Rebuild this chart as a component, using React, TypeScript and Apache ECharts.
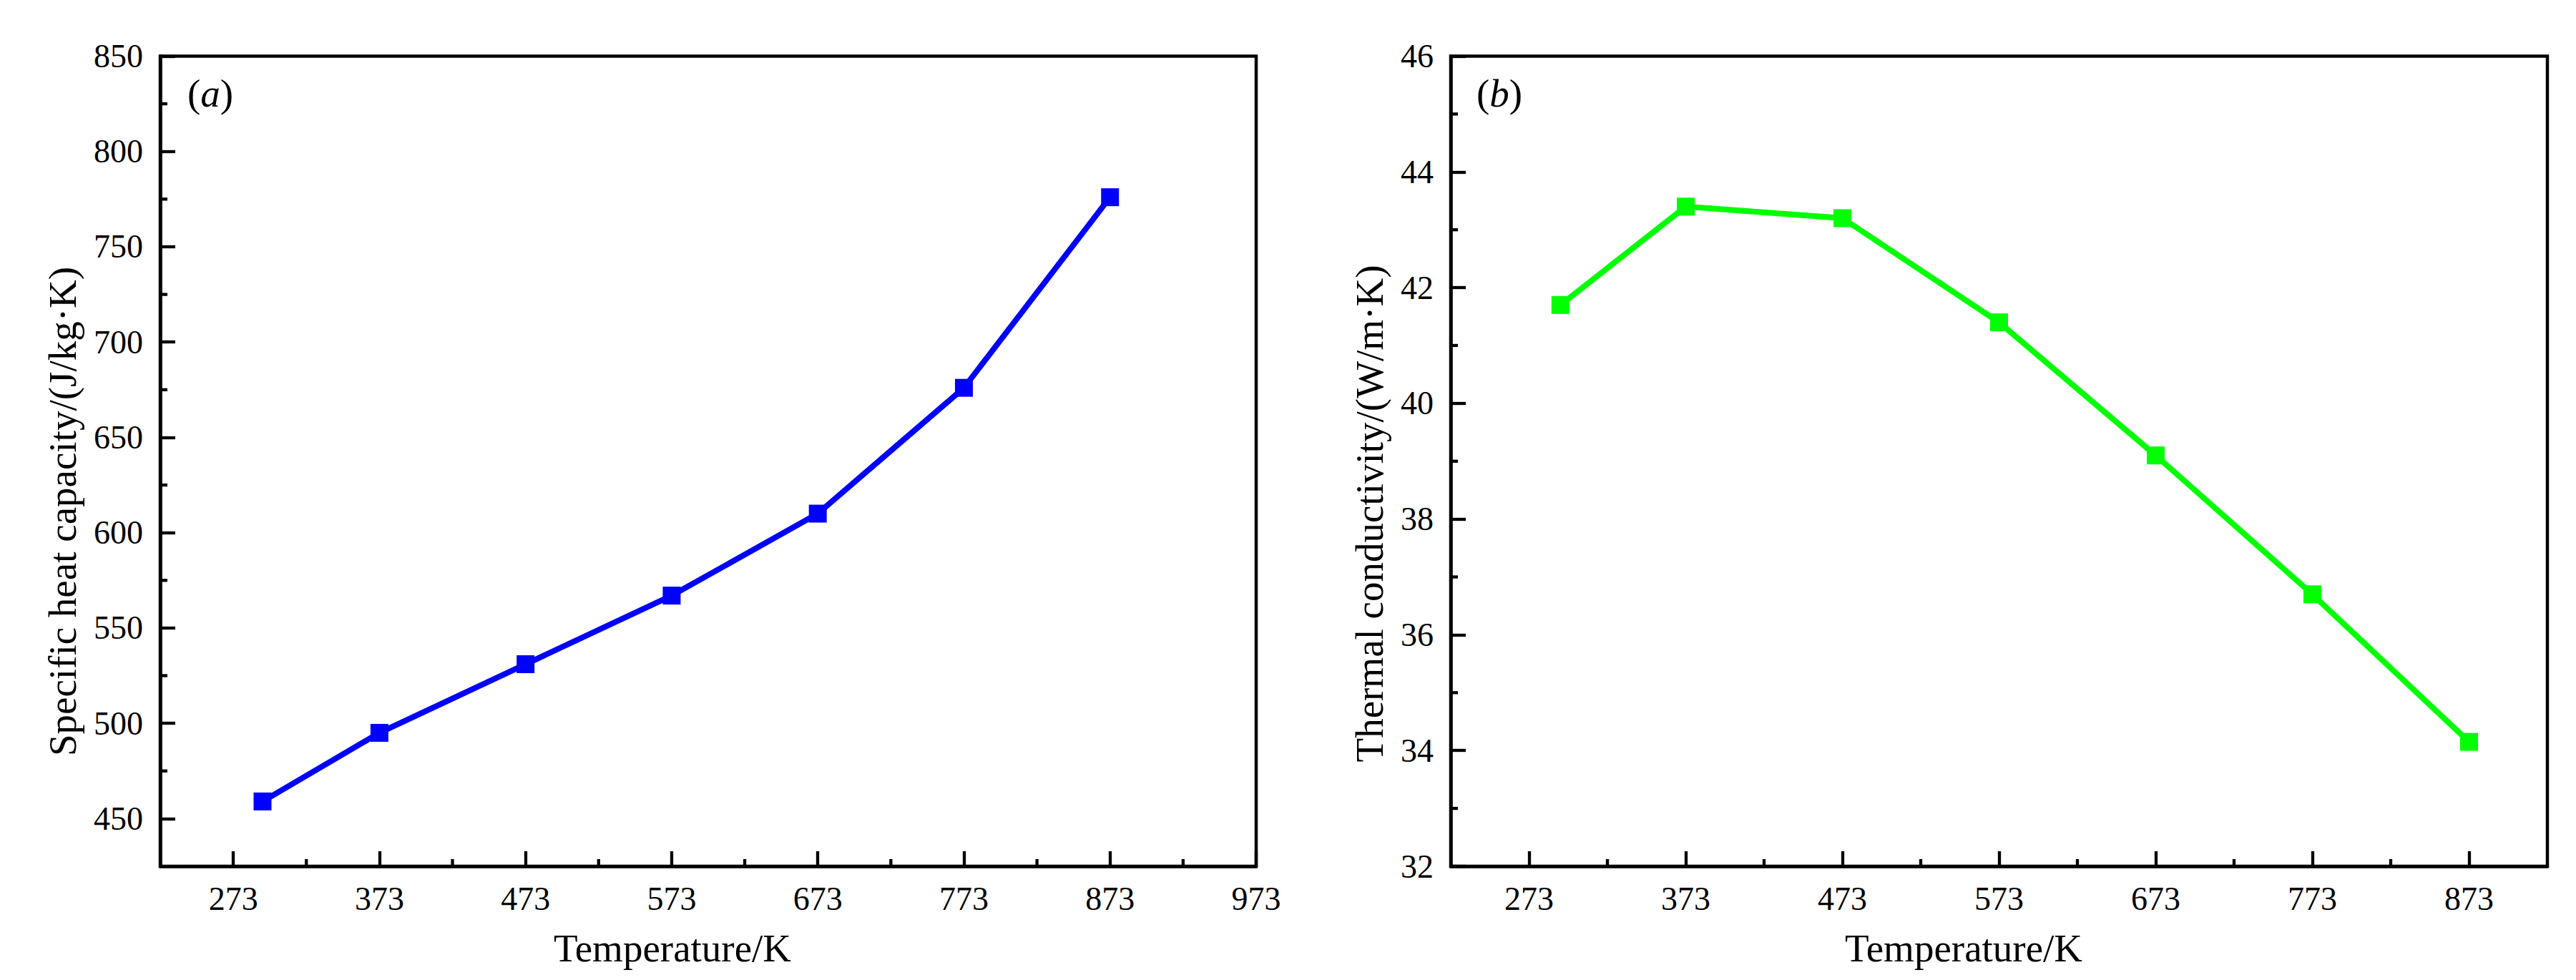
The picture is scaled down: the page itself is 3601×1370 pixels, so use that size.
import React, { useEffect, useRef } from "react";
import * as echarts from "echarts";

const temperatures = [293, 373, 473, 573, 673, 773, 873];
const specificHeat = [459, 495, 531, 567, 610, 676, 776];
const thermalConductivity = [41.7, 43.4, 43.2, 41.4, 39.1, 36.7, 34.15];

const xMajorA = [273, 373, 473, 573, 673, 773, 873, 973];
const xMinorA = [323, 423, 523, 623, 723, 823, 923];
const xMajorB = [273, 373, 473, 573, 673, 773, 873];
const xMinorB = [323, 423, 523, 623, 723, 823];
const yMajorA = [450, 500, 550, 600, 650, 700, 750, 800, 850];
const yMinorA = [475, 525, 575, 625, 675, 725, 775, 825];
const yMajorB = [32, 34, 36, 38, 40, 42, 44, 46];
const yMinorB = [33, 35, 37, 39, 41, 43, 45];

const xRangeA = [223, 973];
const xRangeB = [223, 923];
const yRangeA = [425, 850];
const yRangeB = [32, 46];

const FONT = "Liberation Serif";
const TICK_FS = 46;
const TITLE_FS = 55;
const AXW = 4.5;
const TICKW = 4.3;
const MAJOR_LEN = 21;
const MINOR_LEN = 10;

export default function App() {
  const ref = useRef<HTMLDivElement>(null);
  useEffect(() => {
    if (!ref.current) return;
    const chart = echarts.init(ref.current, undefined, { renderer: "svg" });

    const top = 78.5;
    const height = 1132.5;
    const grids = [
      { left: 224, top, width: 1532, height, show: true, borderColor: "#000", borderWidth: AXW, backgroundColor: "transparent" },
      { left: 2028, top, width: 1533, height, show: true, borderColor: "#000", borderWidth: AXW, backgroundColor: "transparent" },
    ];

    const mkAxis = (gridIndex: number, position: string, range: number[], vals: number[], margin: number) => ({
      type: "value",
      gridIndex,
      position,
      min: range[0],
      max: range[1],
      axisLine: { show: true, onZero: false, lineStyle: { color: "#000", width: AXW } },
      axisTick: { show: true, inside: true, length: MAJOR_LEN, customValues: vals, lineStyle: { color: "#000", width: TICKW } },
      axisLabel: { show: true, customValues: vals, fontSize: TICK_FS, fontFamily: FONT, color: "#000", margin },
      splitLine: { show: false },
    });

    const xAxis = [mkAxis(0, "bottom", xRangeA, xMajorA, 22), mkAxis(1, "bottom", xRangeB, xMajorB, 22)];
    const yAxis = [mkAxis(0, "left", yRangeA, yMajorA, 24), mkAxis(1, "left", yRangeB, yMajorB, 24)];

    // minor ticks drawn through the axes' own scales (custom series)
    const minorTicks = (axisIndex: number, pts: number[][], dx: number, dy: number) => ({
      type: "custom",
      xAxisIndex: axisIndex,
      yAxisIndex: axisIndex,
      clip: false,
      silent: true,
      z: 3,
      data: pts,
      renderItem: (_params: any, api: any) => {
        const p = api.coord([api.value(0), api.value(1)]);
        return {
          type: "line",
          shape: { x1: p[0], y1: p[1], x2: p[0] + dx, y2: p[1] + dy },
          style: { stroke: "#000", lineWidth: TICKW },
        };
      },
    });

    const titleStyle = { fontSize: TITLE_FS, fontFamily: FONT, fill: "#000" };

    const panelLabel = (x: number, letter: string) => ({
      type: "text",
      left: x,
      top: 103,
      style: {
        text: `{p|(}{i|${letter}}{p|)}`,
        rich: {
          p: { fontSize: TITLE_FS, fontFamily: FONT, color: "#000" },
          i: { fontSize: TITLE_FS, fontFamily: FONT, fontStyle: "italic", color: "#000" },
        },
      },
    });

    chart.setOption({
      animation: false,
      backgroundColor: "#fff",
      textStyle: { fontFamily: FONT, color: "#000" },
      grid: grids,
      xAxis,
      yAxis,
      series: [
        minorTicks(0, xMinorA.map((v) => [v, yRangeA[0]]), 0, -MINOR_LEN),
        minorTicks(0, yMinorA.map((v) => [xRangeA[0], v]), MINOR_LEN, 0),
        minorTicks(1, xMinorB.map((v) => [v, yRangeB[0]]), 0, -MINOR_LEN),
        minorTicks(1, yMinorB.map((v) => [xRangeB[0], v]), MINOR_LEN, 0),
        {
          type: "line",
          xAxisIndex: 0,
          yAxisIndex: 0,
          data: temperatures.map((t, i) => [t, specificHeat[i]]),
          symbol: "rect",
          symbolSize: 25,
          z: 5,
          lineStyle: { color: "#0000FF", width: 8 },
          itemStyle: { color: "#0000FF" },
        },
        {
          type: "line",
          xAxisIndex: 1,
          yAxisIndex: 1,
          data: temperatures.map((t, i) => [t, thermalConductivity[i]]),
          symbol: "rect",
          symbolSize: 25,
          z: 5,
          lineStyle: { color: "#00FF00", width: 8 },
          itemStyle: { color: "#00FF00" },
        },
      ],
      graphic: [
        {
          type: "text",
          x: 940,
          y: 1325,
          style: { ...titleStyle, text: "Temperature/K", align: "center", verticalAlign: "middle" },
        },
        {
          type: "text",
          x: 2745,
          y: 1325,
          style: { ...titleStyle, text: "Temperature/K", align: "center", verticalAlign: "middle" },
        },
        {
          type: "text",
          x: 87,
          y: 715,
          rotation: Math.PI / 2,
          style: { ...titleStyle, text: "Specific heat capacity/(J/kg·K)", align: "center", verticalAlign: "middle" },
        },
        {
          type: "text",
          x: 1914,
          y: 718,
          rotation: Math.PI / 2,
          style: { ...titleStyle, text: "Thermal conductivity/(W/m·K)", align: "center", verticalAlign: "middle" },
        },
        panelLabel(262, "a"),
        panelLabel(2064, "b"),
      ],
    });

    return () => chart.dispose();
  }, []);

  return (
    <div
      ref={ref}
      style={{ position: "fixed", left: 0, top: 0, width: 3601, height: 1370, background: "#fff" }}
    />
  );
}
